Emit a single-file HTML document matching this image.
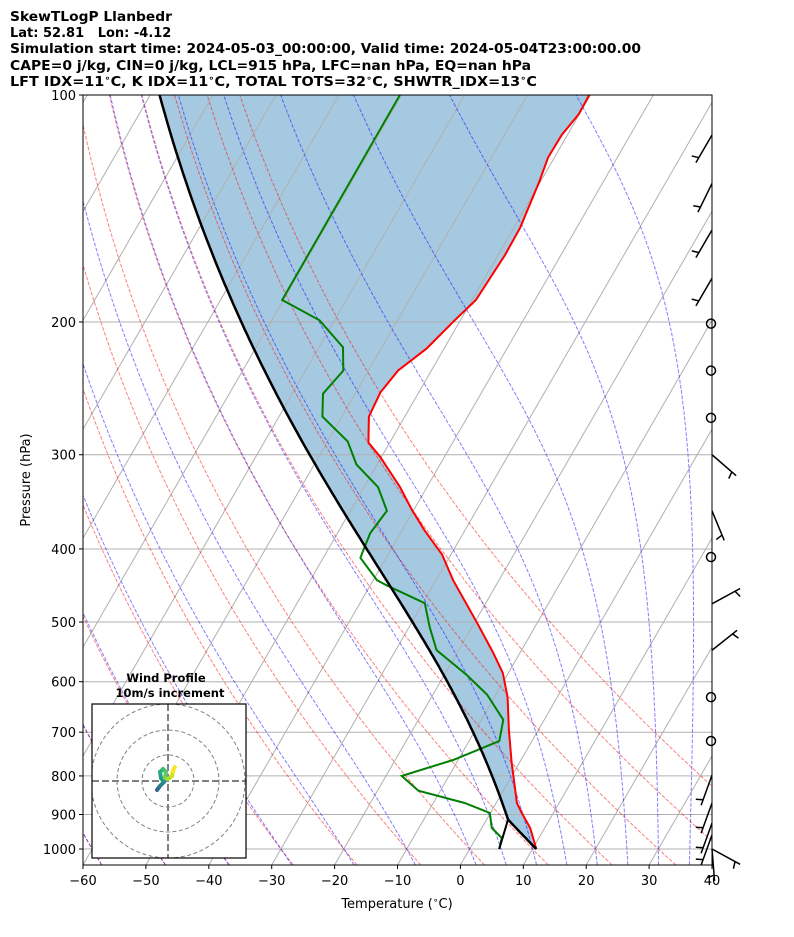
<!DOCTYPE html>
<html><head><meta charset="utf-8"><style>
body{margin:0;background:#fff;}
svg{display:block;font-family:"DejaVu Sans","Liberation Sans",sans-serif;}
</style></head><body>
<svg id="chart" width="794" height="937" viewBox="0 0 794 937" xmlns="http://www.w3.org/2000/svg">
<defs><clipPath id="plotclip"><rect x="83" y="95" width="629" height="770"/></clipPath></defs>
<g font-weight="bold" font-size="13" fill="#000">
<text x="10" y="21" textLength="162" lengthAdjust="spacingAndGlyphs">SkewTLogP Llanbedr</text>
<text x="10" y="37" xml:space="preserve">Lat: 52.81   Lon: -4.12</text>
<text x="10" y="53" textLength="631" lengthAdjust="spacingAndGlyphs">Simulation start time: 2024-05-03_00:00:00, Valid time: 2024-05-04T23:00:00.00</text>
<text x="10" y="70" textLength="521" lengthAdjust="spacingAndGlyphs">CAPE=0 j/kg, CIN=0 j/kg, LCL=915 hPa, LFC=nan hPa, EQ=nan hPa</text>
<text x="10" y="86" textLength="527" lengthAdjust="spacingAndGlyphs">LFT IDX=11<tspan font-size="9" dy="-5">∘</tspan><tspan dy="5">C, K IDX=11</tspan><tspan font-size="9" dy="-5">∘</tspan><tspan dy="5">C, TOTAL TOTS=32</tspan><tspan font-size="9" dy="-5">∘</tspan><tspan dy="5">C, SHWTR_IDX=13</tspan><tspan font-size="9" dy="-5">∘</tspan><tspan dy="5">C</tspan></text>
</g>
<g id="bg" clip-path="url(#plotclip)"></g>
<g id="fg"></g>
</svg>
<script>
// ---- data ----
const tempP = [1000,938,896,869,767,695,629,584,548,501,440,407,378,355,331,302,289,267,248,232,217,199,187,163,150,130,121,113,106,100];
const tempT = [10.6,7.7,5.0,3.3,-1.3,-4.7,-7.9,-10.9,-14.4,-19.6,-27.3,-31.4,-36.4,-40.3,-44.3,-50.2,-53.4,-55.7,-56.1,-55.3,-52.8,-50.9,-49.4,-48.9,-49.0,-50.2,-51.0,-50.9,-50.1,-50.2];
const dewP = [1000,967,938,896,869,837,800,762,719,674,624,588,545,508,472,447,440,411,398,381,356,331,309,288,267,249,232,216,199,187,100];
const dewT = [4.7,4.1,1.6,-0.1,-5.0,-13.5,-17.5,-10.8,-5.2,-6.5,-11.4,-16.4,-23.5,-26.7,-29.7,-37.4,-39.4,-44.1,-44.4,-44.8,-44.2,-47.8,-53.3,-56.8,-63.1,-65.1,-64.0,-66.2,-72.4,-80.2,-80.3];
const windP = [113,131,151,175,201,232,268,300,356,410,473,545,629,719,798,869,924,958,1000,1000];
const windU = [2.5,2.2,2.5,2.5,0,0,0,-3.8,-1.9,0,-4.4,-3.9,0,0,1.7,1.7,1.7,1.7,-4.4,-0.4];
const windV = [4.3,4.5,4.3,4.3,0,0,0,3.3,4.6,0,-2.4,-3.1,0,0,4.7,4.7,4.7,4.7,2.4,5.0];
const xTicks = [-60,-50,-40,-30,-20,-10,0,10,20,30,40];
const yTicks = [100,200,300,400,500,600,700,800,900,1000];
const dryT0 = [-60,-50,-40,-30,-20,-10,0,10,20,30,40,50];
const moistT0 = [-60,-50,-40,-30,-20,-10,0,5,10,15,20,25,30,35,40];
const isoT = [-160,-150,-140,-130,-120,-110,-100,-90,-80,-70,-60,-50,-40,-30,-20,-10,0,10,20,30,40];

// ---- axes ----
const L=83,R=712,T=95,B=865,PXC=6.29,SK=Math.tan(Math.PI/6);
function Y(p){return T+754*Math.log10(p/100);}
function X(t,p){const y=Y(p);return L+(t+60)*PXC+(B-y)*SK;}
const NS="http://www.w3.org/2000/svg";
function mk(tag,attrs,parent){const e=document.createElementNS(NS,tag);for(const k in attrs)e.setAttribute(k,attrs[k]);parent.appendChild(e);return e;}
const bg=document.getElementById('bg'),fg=document.getElementById('fg');
function pts(arrT,arrP){return arrT.map((t,i)=>X(t,arrP[i]).toFixed(1)+','+Y(arrP[i]).toFixed(1)).join(' ');}

// thermodynamics
function es(tc){return 6.112*Math.exp(17.67*tc/(tc+243.5));}
function dTdp(Tk,p){const e=es(Tk-273.15);const rs=0.622*e/(p-e);const Rd=287.04,Lv=2.501e6,Cp=1005.7;
 return (Rd*Tk+Lv*rs)/(Cp+Lv*Lv*rs*0.622/(Rd*Tk*Tk))/p;}
function moist(t0c,p0,p1,step){const out=[];let Tk=t0c+273.15,p=p0;out.push([Tk-273.15,p]);
 const n=Math.ceil(Math.abs(p1-p0)/step);const h=(p1-p0)/n;
 for(let i=0;i<n;i++){const k1=dTdp(Tk,p),k2=dTdp(Tk+h*k1/2,p+h/2),k3=dTdp(Tk+h*k2/2,p+h/2),k4=dTdp(Tk+h*k3,p+h);
  Tk+=h*(k1+2*k2+2*k3+k4)/6;p+=h;out.push([Tk-273.15,p]);}
 return out;}

// isotherms
for(const t of isoT){const l=mk('line',{x1:L+(t+60)*PXC,y1:B,x2:L+(t+60)*PXC+(B-T)*SK,y2:T,stroke:'#b0b0b0','stroke-width':1},bg);
 
 }
// pressure gridlines
for(const p of yTicks){const l=mk('line',{x1:L,y1:Y(p),x2:R,y2:Y(p),stroke:'#b0b0b0','stroke-width':1},bg);
 
 }

// parcel
const w0=0.622*es(dewT[0])/(dewP[0]-es(dewT[0]));
let plcl=dewP[0],tlcl=tempT[0];
for(let p=tempP[0];p>300;p-=0.5){const tk=(tempT[0]+273.15)*Math.pow(p/tempP[0],0.2857);const e=w0*p/(0.622+w0);
 const td=243.5*Math.log(e/6.112)/(17.67-Math.log(e/6.112));if(tk-273.15<=td){plcl=p;tlcl=tk-273.15;break;}}
const parcel=[];
for(let p=tempP[0];p>plcl;p-=5){parcel.push([(tempT[0]+273.15)*Math.pow(p/tempP[0],0.2857)-273.15,p]);}
moist(tlcl,plcl,100,3).forEach(q=>parcel.push(q));
const parcelStr=parcel.map(q=>X(q[0],q[1]).toFixed(1)+','+Y(q[1]).toFixed(1)).join(' ');

// fill between parcel and temperature
let fillStr=parcelStr+' '+tempT.map((t,i)=>X(t,tempP[i]).toFixed(1)+','+Y(tempP[i]).toFixed(1)).reverse().join(' ');
const fill=mk('polygon',{points:fillStr,fill:'#1f77b4','fill-opacity':0.4,stroke:'none'},bg);


bg.insertBefore(fill,bg.firstChild);

// dry adiabats
for(const t0 of dryT0){const a=[];for(let p=1050;p>=100;p-=10){a.push(X((t0+273.15)*Math.pow(p/1000,0.2857)-273.15,p).toFixed(1)+','+Y(p).toFixed(1));}
 const l=mk('polyline',{points:a.join(' '),fill:'none',stroke:'#ff0000','stroke-opacity':0.5,'stroke-width':1,'stroke-dasharray':'3.7,1.6'},bg);
 
 }
// moist adiabats
for(const t0 of moistT0){const up=moist(t0,1000,100,5);const dn=moist(t0,1000,1050,5);const all=dn.reverse().concat(up);
 const l=mk('polyline',{points:all.map(q=>X(q[0],q[1]).toFixed(1)+','+Y(q[1]).toFixed(1)).join(' '),fill:'none',stroke:'#0000ff','stroke-opacity':0.5,'stroke-width':1,'stroke-dasharray':'3.7,1.6'},bg);
 
 }

// profiles
const tl=mk('polyline',{points:pts(tempT,tempP),fill:'none',stroke:'#ff0000','stroke-width':2},bg);


const dl=mk('polyline',{points:pts(dewT,dewP),fill:'none',stroke:'#008000','stroke-width':2},bg);


const pl=mk('polyline',{points:parcelStr,fill:'none',stroke:'#000','stroke-width':2.5},bg);


const ml=mk('line',{x1:X(dewT[0],dewP[0]),y1:Y(dewP[0]),x2:X(tlcl,plcl),y2:Y(plcl),stroke:'#000','stroke-width':2},bg);



// frame
const fr=mk('rect',{x:L,y:T,width:R-L,height:B-T,fill:'none',stroke:'#000','stroke-width':1},fg);


// ticks
for(const t of xTicks){const x=L+(t+60)*PXC;mk('line',{x1:x,y1:B,x2:x,y2:B+4,stroke:'#000'},fg);
 const tx=mk('text',{x:x,y:B+20,'text-anchor':'middle','font-size':13},fg);tx.textContent=(t<0?'\u2212'+(-t):''+t);
 
 }
for(const p of yTicks){const y=Y(p);mk('line',{x1:L-4,y1:y,x2:L,y2:y,stroke:'#000'},fg);
 const tx=mk('text',{x:L-7,y:y+5,'text-anchor':'end','font-size':13},fg);tx.textContent=''+p;
 
 }
const xl=mk('text',{x:397,y:908,'text-anchor':'middle','font-size':13},fg);xl.innerHTML='Temperature (<tspan font-size="9" dy="-5">∘</tspan><tspan dy="5">C)</tspan>';


const yl=mk('text',{x:30,y:480,'text-anchor':'middle','font-size':13,transform:'rotate(-90 30 480)'},fg);yl.textContent='Pressure (hPa)';



// wind barbs
for(let i=0;i<windP.length;i++){const y=Y(windP[i]),u=windU[i],v=windV[i];
 if(u===0&&v===0){const c=mk('circle',{cx:711,cy:y,r:4.5,fill:'none',stroke:'#000','stroke-width':1.5},fg);
  
  continue;}
 const s=Math.hypot(u,v);const dx=-u/s,dy=v/s;const len=32;
 const ex=712+dx*len,ey=y+dy*len;const g=mk('g',{stroke:'#000','stroke-width':1.5,fill:'none'},fg);
 
 
 mk('line',{x1:712,y1:y,x2:ex,y2:ey},g);
 const bx=712+dx*len*0.82,by=y+dy*len*0.82;const px=-dy,py=dx;
 mk('line',{x1:bx,y1:by,x2:bx+px*7+dx*2,y2:by+py*7+dy*2},g);}

// hodograph inset
const hx=168,hy=781;
const ib=mk('g',{},fg);


mk('rect',{x:92,y:704,width:154,height:154,fill:'#fff',stroke:'none'},ib);
const hc=mk('g',{stroke:'#808080',fill:'none','stroke-dasharray':'4,2.5'},ib);
const cp=mk('clipPath',{id:'hclip'},ib);mk('rect',{x:92,y:704,width:154,height:154},cp);hc.setAttribute('clip-path','url(#hclip)');
[26,51,77].forEach(r=>mk('circle',{cx:hx,cy:hy,r:r,'stroke-width':1},hc));
mk('line',{x1:92,y1:hy,x2:246,y2:hy,'stroke-width':2,'stroke-dasharray':'7,3'},hc);
mk('line',{x1:hx,y1:704,x2:hx,y2:858,'stroke-width':2,'stroke-dasharray':'7,3'},hc);
const hodoU=[-11,-8,-4,-7,-8,-5,-2,-3,0,4,5,7];
const hodoV=[-9,-5,-1,3,9,12,9,3,2,5,10,14];
const cols=['#31688e','#2c7f8e','#21918c','#1fa187','#29af7f','#3bbb75','#5ec962','#84d44b','#addc30','#d8e219','#fde725','#440154'];
for(let i=0;i<hodoU.length-1;i++){const l=mk('line',{x1:hx+hodoU[i],y1:hy-hodoV[i],x2:hx+hodoU[i+1],y2:hy-hodoV[i+1],stroke:cols[i],'stroke-width':4,'stroke-linecap':'round'},ib);
 
 }
mk('rect',{x:92,y:704,width:154,height:154,fill:'none',stroke:'#000','stroke-width':1.2},ib);
const ht=mk('text',{x:166,y:682,'text-anchor':'middle','font-size':11.5,'font-weight':'bold'},ib);ht.textContent='Wind Profile';


const ht2=mk('text',{x:170,y:697,'text-anchor':'middle','font-size':11.5,'font-weight':'bold'},ib);ht2.textContent='10m/s increment';


</script>
</body></html>
